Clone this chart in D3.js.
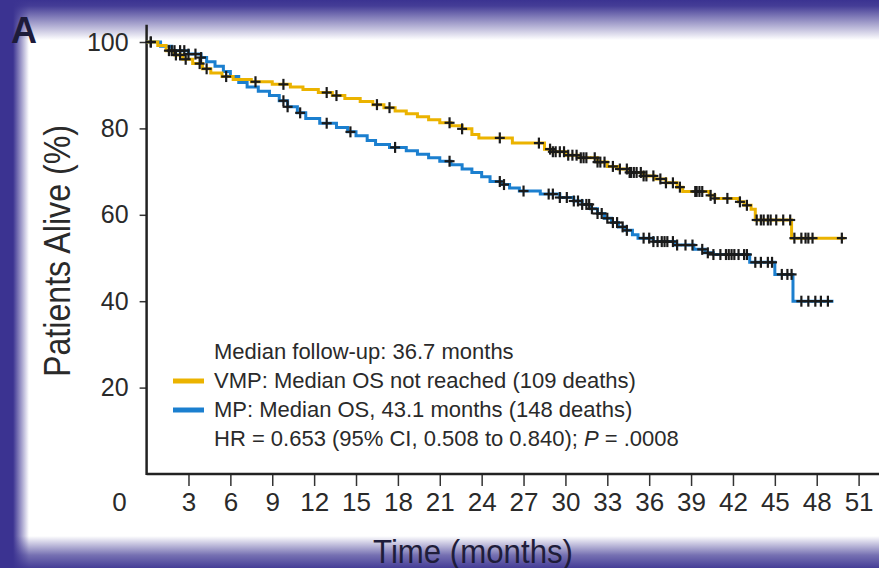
<!DOCTYPE html>
<html>
<head>
<meta charset="utf-8">
<script src="https://cdn.jsdelivr.net/npm/d3@7"></script>
<style>
  html, body { margin: 0; padding: 0; background: #fff; }
  svg { display: block; font-family: "Liberation Sans", Arial, Helvetica, sans-serif; }
</style>
</head>
<body>
<div id="chart"></div>
<script>
// step points [month, % alive]
const vmpSteps = [[0,100],[0.8,99.2],[1.4,98.0],[2.0,97.0],[2.6,96.0],[3.3,95.0],[4.0,93.8],[4.6,92.8],[5.4,92.0],[6.2,91.3],[7.5,90.8],[9.0,90.2],[10.3,89.6],[11.2,89.0],[12.3,88.3],[13.3,87.6],[14.2,86.9],[15.3,86.2],[16.2,85.5],[17.0,84.8],[17.8,84.0],[18.6,83.4],[19.4,82.7],[20.2,82.0],[21.0,81.3],[21.8,80.6],[22.6,79.9],[23.3,78.6],[23.8,77.8],[26.2,76.6],[28.5,75.2],[29.0,74.6],[30.0,73.8],[31.0,73.2],[32.3,72.2],[33.0,71.2],[33.8,70.6],[34.6,69.8],[35.6,69.0],[36.4,68.3],[37.2,67.4],[38.0,66.4],[38.4,65.4],[40.3,64.5],[40.7,63.8],[42.4,63.0],[42.8,62.2],[43.3,61.3],[43.6,58.8],[46.2,54.6]];
const vmpEnd = 50.0;
const mpSteps = [[0,100],[1.0,99.0],[1.8,98.0],[3.0,97.2],[3.9,96.4],[4.3,95.4],[4.9,94.4],[5.5,93.2],[6.0,92.0],[6.6,90.6],[7.2,89.6],[8.0,88.6],[8.8,87.6],[9.5,86.4],[10.1,85.0],[10.8,83.6],[11.4,82.3],[12.4,81.2],[13.6,80.2],[14.4,79.2],[15.0,78.3],[15.8,77.2],[16.4,76.3],[17.4,75.6],[18.6,74.8],[19.4,74.0],[20.2,73.2],[21.0,72.4],[21.8,71.6],[22.6,70.6],[23.3,69.8],[24.0,68.8],[24.6,67.7],[25.4,67.0],[26.0,66.2],[26.7,65.5],[28.2,64.8],[29.6,64.0],[30.6,63.2],[31.2,62.4],[31.8,61.4],[32.3,60.3],[32.8,59.2],[33.3,58.2],[33.8,57.2],[34.3,56.4],[34.8,55.4],[35.2,54.6],[36.3,53.8],[37.8,53.0],[39.2,52.0],[40.0,51.2],[40.6,50.8],[43.2,49.0],[45.0,46.2],[46.3,40.0]];
const mpEnd = 49.2;

// censored observations (months)
const vmpCensor = [0.3,1.6,1.8,2.1,2.4,2.8,3.8,4.3,5.7,7.8,9.8,12.9,13.6,16.5,17.4,21.7,22.6,25.3,28.1,28.9,29.1,29.3,29.6,29.9,30.2,30.5,30.8,31.1,31.3,31.5,32.1,32.3,32.5,32.8,33.4,33.9,34.4,34.6,34.7,34.9,35.1,35.4,35.6,35.8,36.3,36.8,37.2,37.7,38.2,39.3,39.4,39.6,39.8,40.4,40.7,41.6,42.5,43.0,43.7,44.0,44.2,44.5,44.7,45.1,45.6,46.1,46.4,46.9,47.2,47.4,47.7,49.8];
const mpCensor = [0.3,2.0,2.4,2.7,3.0,3.5,3.9,9.8,10.1,11.0,12.9,14.6,17.8,21.7,25.3,25.6,27.0,28.8,29.1,29.6,30.1,30.6,30.9,31.2,31.5,31.7,31.9,32.3,32.6,33.0,33.4,33.7,34.1,34.4,35.6,36.0,36.3,36.6,36.9,37.1,37.3,37.7,38.0,38.6,39.1,39.8,40.2,40.6,41.1,41.5,41.7,41.9,42.1,42.4,42.8,43.0,43.6,44.0,44.5,44.8,45.5,45.9,46.2,46.9,47.4,47.9,48.3,48.8];

const xTicks = [3,6,9,12,15,18,21,24,27,30,33,36,39,42,45,48,51];
const yTicks = [20,40,60,80,100];

const legendLines = [
  {text: 'Median follow-up: 36.7 months', color: null},
  {text: 'VMP: Median OS not reached (109 deaths)', color: '#ebb300'},
  {text: 'MP: Median OS, 43.1 months (148 deaths)', color: '#1b7fcf'},
  {text: 'HR = 0.653 (95% CI, 0.508 to 0.840); ', color: null, italic: 'P', tail: ' = .0008'}
];

const W = 879, H = 568;
const purple = '#3b3391';
const svg = d3.select('#chart').append('svg')
  .attr('width', W).attr('height', H);
const defs = svg.append('defs');

// fade gradient: id, direction, stops [offset, opacity]
function fade(id, x2, y2, stops) {
  const g = defs.append('linearGradient').attr('id', id)
    .attr('x1', 0).attr('y1', 0).attr('x2', x2).attr('y2', y2);
  stops.forEach(s => g.append('stop').attr('offset', s[0])
    .attr('stop-color', purple).attr('stop-opacity', s[1]));
}
fade('leftFade', 1, 0, [[0, 1], [0.45, 1], [1, 0]]);
fade('topFade', 0, 1, [[0, 1], [0.15, 0.95], [1, 0]]);
fade('bottomFade', 0, 1, [[0, 0], [0.6, 0.7], [1, 0.95]]);

svg.append('rect').attr('width', W).attr('height', H).attr('fill', '#fff');
svg.append('rect').attr('x', 0).attr('y', 0).attr('width', 29).attr('height', H)
  .attr('fill', 'url(#leftFade)');
svg.append('rect').attr('x', 0).attr('y', 0).attr('width', W).attr('height', 40)
  .attr('fill', 'url(#topFade)');
svg.append('rect').attr('x', 0).attr('y', 536).attr('width', W).attr('height', 32)
  .attr('fill', 'url(#bottomFade)');

const x = d3.scaleLinear().domain([0, 51]).range([146.6, 858.6]);
const y = d3.scaleLinear().domain([0, 100]).range([474, 42]);

// axes
const xAxis = svg.append('g')
  .attr('transform', `translate(0,${y(0)})`)
  .call(d3.axisBottom(x).tickValues(xTicks).tickSize(12).tickSizeOuter(0).tickPadding(7));
xAxis.select('.domain').remove();
xAxis.selectAll('.tick line').attr('stroke', '#333').attr('stroke-width', 1.5);
xAxis.selectAll('.tick text').attr('font-size', 26).attr('fill', '#2a2a2a').style('font-family', 'inherit');

const yAxis = svg.append('g')
  .attr('transform', `translate(${x(0)},0)`)
  .call(d3.axisLeft(y).tickValues(yTicks).tickSize(7).tickSizeOuter(0).tickPadding(11));
yAxis.select('.domain').remove();
yAxis.selectAll('.tick line').attr('stroke', '#333').attr('stroke-width', 1.5);
yAxis.selectAll('.tick text').attr('font-size', 25).attr('fill', '#2a2a2a').style('font-family', 'inherit');

svg.append('text')
  .attr('x', x(0) - 27).attr('y', y(0) + 37)
  .attr('text-anchor', 'middle')
  .attr('font-size', 26).attr('fill', '#2a2a2a')
  .text('0');

svg.append('line')
  .attr('x1', x(0)).attr('x2', W)
  .attr('y1', y(0)).attr('y2', y(0))
  .attr('stroke', '#222').attr('stroke-width', 2.5);
svg.append('line')
  .attr('x1', x(0)).attr('x2', x(0))
  .attr('y1', y(0) + 1).attr('y2', y(104))
  .attr('stroke', '#222').attr('stroke-width', 2.5);

// curves
function stepData(steps, end) {
  return steps.concat([[end, steps[steps.length - 1][1]]]);
}
function survAt(steps, t) {
  let v = steps[0][1];
  steps.forEach(d => { if (d[0] <= t) v = d[1]; });
  return v;
}
const line = d3.line()
  .x(d => x(d[0]))
  .y(d => y(d[1]))
  .curve(d3.curveStepAfter);

const series = [
  {steps: mpSteps, end: mpEnd, censor: mpCensor, color: '#1b7fcf'},
  {steps: vmpSteps, end: vmpEnd, censor: vmpCensor, color: '#ebb300'}
];

series.forEach(s => {
  svg.append('path')
    .datum(stepData(s.steps, s.end))
    .attr('d', line)
    .attr('fill', 'none')
    .attr('stroke', s.color)
    .attr('stroke-width', 3);
});

series.forEach(s => {
  const g = svg.append('g');
  const marks = g.selectAll('g.cm')
    .data(s.censor)
    .enter().append('g')
    .attr('transform', t => `translate(${x(t)},${y(survAt(s.steps, t))})`);
  marks.append('line').attr('x1', -5).attr('x2', 5).attr('y1', 0).attr('y2', 0)
    .attr('stroke', '#1a1a1a').attr('stroke-width', 2.2);
  marks.append('line').attr('x1', 0).attr('x2', 0).attr('y1', -5.5).attr('y2', 5.5)
    .attr('stroke', '#1a1a1a').attr('stroke-width', 2.2);
});

// legend
const leg = svg.append('g');
legendLines.forEach((d, i) => {
  const yy = 359 + i * 29;
  if (d.color) {
    leg.append('line')
      .attr('x1', 173).attr('x2', 204)
      .attr('y1', yy - 7).attr('y2', yy - 7)
      .attr('stroke', d.color).attr('stroke-width', 5);
  }
  const t = leg.append('text')
    .attr('x', 214).attr('y', yy)
    .attr('font-size', 22).attr('fill', '#2a2a2a');
  t.append('tspan').text(d.text);
  if (d.italic) {
    t.append('tspan').attr('font-style', 'italic').text(d.italic);
    t.append('tspan').text(d.tail);
  }
});

// titles
svg.append('text')
  .attr('transform', `translate(70,377) rotate(-90)`)
  .attr('font-size', 36).attr('fill', '#2a2a2a')
  .attr('textLength', 252).attr('lengthAdjust', 'spacingAndGlyphs')
  .text('Patients Alive (%)');

svg.append('text')
  .attr('x', 373).attr('y', 563)
  .attr('font-size', 33).attr('fill', '#1f1d3a')
  .attr('textLength', 200).attr('lengthAdjust', 'spacingAndGlyphs')
  .text('Time (months)');

svg.append('text')
  .attr('x', 11).attr('y', 43)
  .attr('font-size', 36).attr('font-weight', 'bold').attr('fill', '#1d1b3a')
  .text('A');
</script>
</body>
</html>
